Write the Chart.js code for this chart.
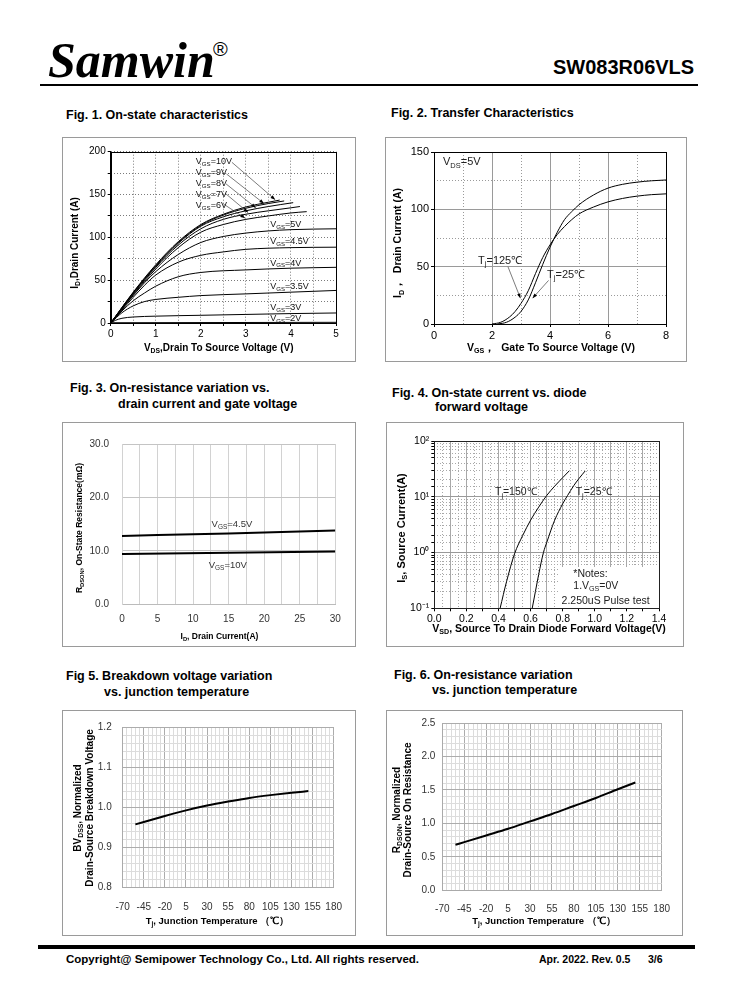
<!DOCTYPE html>
<html>
<head>
<meta charset="utf-8">
<script src="https://cdn.jsdelivr.net/npm/chart.js@4.4.1/dist/chart.umd.min.js"></script>
<style>
body { margin:0; background:#fff; width:738px; height:1000px; position:relative; overflow:hidden; font-family:"Liberation Sans", Arial, sans-serif; }
.t { position:absolute; font-weight:bold; font-size:12.5px; line-height:14px; white-space:nowrap; color:#000; }
.f { position:absolute; font-weight:bold; font-size:11.5px; line-height:14px; white-space:nowrap; color:#000; }
.rule { position:absolute; background:#000; }
canvas { position:absolute; }
#logo { position:absolute; left:48px; top:35px; font:italic bold 50px/50px "Liberation Serif", "Times New Roman", serif; }
#reg { position:absolute; left:213px; top:39px; font:20px/20px "Liberation Sans", Arial, sans-serif; }
#part { position:absolute; left:553px; top:56px; font:bold 20px/22px "Liberation Sans", Arial, sans-serif; }
</style>
</head>
<body>
<div id="logo">Samwin</div>
<div id="reg">®</div>
<div id="part">SW083R06VLS</div>
<div class="rule" style="left:40px;top:84px;width:658px;height:2px"></div>

<div class="t" style="left:66px;top:108px">Fig. 1. On-state characteristics</div>
<div class="t" style="left:391px;top:106px">Fig. 2. Transfer Characteristics</div>
<div class="t" style="left:70px;top:381px">Fig. 3. On-resistance variation vs.</div>
<div class="t" style="left:118px;top:397px">drain current and gate voltage</div>
<div class="t" style="left:392px;top:386px">Fig. 4. On-state current vs. diode</div>
<div class="t" style="left:435px;top:400px">forward voltage</div>
<div class="t" style="left:66px;top:669px">Fig 5. Breakdown voltage variation</div>
<div class="t" style="left:104px;top:685px">vs. junction temperature</div>
<div class="t" style="left:394px;top:668px">Fig. 6. On-resistance variation</div>
<div class="t" style="left:432px;top:683px">vs. junction temperature</div>

<canvas id="c1" width="294" height="225" style="left:62px;top:137px"></canvas>
<canvas id="c2" width="302" height="225" style="left:385px;top:137px"></canvas>
<canvas id="c3" width="294" height="225" style="left:62px;top:422px"></canvas>
<canvas id="c4" width="298" height="225" style="left:386px;top:422px"></canvas>
<canvas id="c5" width="294" height="226" style="left:62px;top:710px"></canvas>
<canvas id="c6" width="297" height="226" style="left:386px;top:710px"></canvas>

<div class="rule" style="left:38px;top:945px;width:657px;height:4px"></div>
<div class="f" style="left:66px;top:952px">Copyright@ Semipower Technology Co., Ltd. All rights reserved.</div>
<div class="f" style="left:539px;top:952px;font-size:10.5px">Apr. 2022. Rev. 0.5</div>
<div class="f" style="left:648px;top:952px;font-size:10.5px">3/6</div>

<script>
// Fig 1 - output curves, one pair of arrays per VGS
var vds10 = [0, 0.5, 1, 1.5, 2, 2.5, 3, 3.5, 3.75];
var id10 = [0, 36, 68, 95, 115, 127, 135.5, 141, 143.5];
var vds9 = [0, 0.5, 1, 1.5, 2, 2.5, 3, 3.5, 3.85];
var id9 = [0, 35.5, 67, 94, 114, 126, 134, 139.5, 142.5];
var vds8 = [0, 0.5, 1, 1.5, 2, 2.5, 3, 3.5, 4.05];
var id8 = [0, 35, 66, 93, 113, 124, 131, 136, 140.5];
var vds7 = [0, 0.5, 1, 1.5, 2, 2.5, 3, 3.5, 4, 4.2];
var id7 = [0, 34, 65, 91, 110, 121, 127, 131, 134.5, 136];
var vds6 = [0, 0.5, 1, 1.5, 2, 2.5, 3, 3.5, 4, 4.35];
var id6 = [0, 33, 63, 88, 106, 115, 121, 125, 128.5, 130];
var vds5 = [0, 0.25, 0.5, 0.75, 1, 1.5, 2, 2.5, 3, 3.5, 4, 5];
var id5 = [0, 16, 32, 47, 60, 80, 94, 101, 105, 107.5, 109, 110];
var vds45 = [0, 0.25, 0.5, 0.75, 1, 1.5, 2, 2.5, 3, 4, 5];
var id45 = [0, 15, 30, 44, 56, 71, 79, 83, 86, 88, 88.5];
var vds4 = [0, 0.25, 0.5, 0.75, 1, 1.5, 2, 3, 4, 5];
var id4 = [0, 14, 26, 35, 43, 54, 59, 62, 64, 65];
var vds35 = [0, 0.25, 0.5, 0.75, 1, 1.5, 2, 3, 4, 5];
var id35 = [0, 12, 20, 25, 27.5, 30, 32, 34, 36, 38];
var vds3 = [0, 0.1, 0.25, 0.5, 1, 2, 3, 4, 5];
var id3 = [0, 3, 5.5, 7, 8, 9, 10, 11, 11.7];
var vds2 = [0, 5];
var id2 = [0.3, 0.8];

// Fig 2 - transfer curves
var vgs125 = [2.0, 2.3, 2.6, 2.8, 3, 3.25, 3.5, 3.75, 4, 4.25, 4.5, 4.75, 5, 5.5, 6, 6.5, 7, 7.5, 8];
var idT125 = [0, 1.5, 6, 11, 18, 29, 44, 58, 69, 78, 85, 91, 96, 102, 106.5, 109.5, 111.5, 112.8, 113.5];
var vgs25 = [2.2, 2.5, 2.8, 3, 3.25, 3.5, 3.75, 4, 4.25, 4.5, 4.75, 5, 5.5, 6, 6.5, 7, 7.5, 8];
var idT25 = [0, 1.5, 6, 11, 21, 36, 52, 67, 80, 91, 98, 104, 112.5, 118.5, 121.8, 123.7, 124.9, 125.6];

// Fig 3 - RDS(on) vs ID
var idR = [0, 15, 30];
var rVgs45 = [12.8, 13.25, 13.8];
var rVgs10 = [9.4, 9.65, 9.9];

// Fig 4 - body diode
var vsd150 = [0.41, 0.45, 0.5, 0.55, 0.6, 0.65, 0.7, 0.75, 0.8, 0.84];
var is150 = [0.1, 0.3, 0.95, 2, 3.8, 6.5, 10.5, 15.5, 22, 29];
var vsd25 = [0.61, 0.63, 0.65, 0.68, 0.7, 0.75, 0.8, 0.83, 0.87, 0.9, 0.94];
var is25 = [0.1, 0.2, 0.4, 1.0, 1.5, 3.8, 7.5, 10.5, 16, 21, 29];

// Fig 5 / Fig 6 - vs junction temperature
var tjBv = [-55, -45, -20, 5, 30, 55, 80, 105, 130, 150];
var bvNorm = [0.957, 0.963, 0.978, 0.992, 1.004, 1.014, 1.023, 1.030, 1.036, 1.040];
var tjRon = [-55, -45, -20, 5, 30, 55, 80, 105, 130, 150];
var ronNorm = [0.68, 0.72, 0.82, 0.92, 1.03, 1.14, 1.26, 1.38, 1.51, 1.61];

var FONT = '"Liberation Sans", Arial, sans-serif';
Chart.defaults.font.family = FONT;
Chart.defaults.color = '#000';

function pts(xs, ys) {
    return xs.map((x, i) => ({ x: x, y: ys[i] }));
}

function curve(xs, ys, w) {
    return {
        data: pts(xs, ys), xAxisID: 'x', yAxisID: 'y',
        borderColor: '#000', borderWidth: w, pointRadius: 0,
        fill: false, cubicInterpolationMode: 'monotone'
    };
}

// text with _{sub} and ^{sup}
function rich(ctx, str, x, y, size, o) {
    o = o || {};
    var parts = str.split(/(_\{[^}]*\}|\^\{[^}]*\})/).filter(Boolean).map(p => {
        if (p.startsWith('_{')) return { t: p.slice(2, -1), k: 1 };
        if (p.startsWith('^{')) return { t: p.slice(2, -1), k: -1 };
        return { t: p, k: 0 };
    });
    var font = k => (o.bold ? 'bold ' : '') + (k ? size * 0.68 : size) + 'px ' + FONT;
    var total = 0;
    parts.forEach(p => { ctx.font = font(p.k); p.w = ctx.measureText(p.t).width; total += p.w; });
    ctx.save();
    ctx.translate(x, y);
    if (o.rotate) ctx.rotate(-Math.PI / 2);
    ctx.fillStyle = o.color || '#000';
    ctx.textBaseline = 'middle';
    ctx.textAlign = 'left';
    var cx = o.align === 'center' ? -total / 2 : 0;
    parts.forEach(p => {
        ctx.font = font(p.k);
        ctx.fillText(p.t, cx, p.k === 1 ? size * 0.3 : (p.k === -1 ? -size * 0.35 : 0));
        cx += p.w;
    });
    ctx.restore();
}

function decor(d) {
    return {
        id: 'decor',
        beforeDatasetsDraw(chart) {
            if (!d.blank) return;
            var sx = chart.scales.x, sy = chart.scales.y, b = d.blank;
            var x1 = sx.getPixelForValue(b[0]), y1 = sy.getPixelForValue(b[1]);
            var x2 = sx.getPixelForValue(b[2]), y2 = sy.getPixelForValue(b[3]);
            chart.ctx.fillStyle = '#fff';
            chart.ctx.fillRect(x1, y1, x2 - x1, y2 - y1);
        },
        afterDraw(chart) {
            var ctx = chart.ctx, a = chart.chartArea, sx = chart.scales.x, sy = chart.scales.y;
            ctx.save();
            if (d.frame) {
                ctx.strokeStyle = d.frame;
                ctx.lineWidth = 1;
                var l = Math.round(a.left) + 0.5, t = Math.round(a.top) + 0.5;
                ctx.strokeRect(l, t, Math.round(a.right) - Math.round(a.left), Math.round(a.bottom) - Math.round(a.top));
            }
            (d.arrows || []).forEach(ar => {
                var x1 = sx.getPixelForValue(ar[0]), y1 = sy.getPixelForValue(ar[1]);
                var x2 = sx.getPixelForValue(ar[2]), y2 = sy.getPixelForValue(ar[3]);
                var ang = Math.atan2(y2 - y1, x2 - x1);
                ctx.strokeStyle = '#444';
                ctx.fillStyle = '#000';
                ctx.lineWidth = 0.7;
                ctx.beginPath(); ctx.moveTo(x1, y1); ctx.lineTo(x2, y2); ctx.stroke();
                ctx.beginPath();
                ctx.moveTo(x2, y2);
                ctx.lineTo(x2 - 5 * Math.cos(ang - 0.35), y2 - 5 * Math.sin(ang - 0.35));
                ctx.lineTo(x2 - 5 * Math.cos(ang + 0.35), y2 - 5 * Math.sin(ang + 0.35));
                ctx.closePath(); ctx.fill();
            });
            (d.labels || []).forEach(lb => {
                rich(ctx, lb[0], sx.getPixelForValue(lb[1]), sy.getPixelForValue(lb[2]), d.labelSize, { color: d.labelColor });
            });
            (d.titles || []).forEach(tt => {
                rich(ctx, tt[0], tt[1], tt[2], tt[3], { bold: true, align: 'center', rotate: tt[4] });
            });
            ctx.strokeStyle = '#9a9a9a';
            ctx.lineWidth = 1;
            ctx.strokeRect(0.5, 0.5, chart.width - 1, chart.height - 1);
            ctx.restore();
        }
    };
}

function axis(o) {
    var s = {
        type: o.type || 'linear', position: o.pos, min: o.min, max: o.max,
        afterFit: sc => { if (o.pos === 'left') sc.width = o.size; else sc.height = o.size; },
        ticks: {
            display: !!o.label, stepSize: o.step, autoSkip: false, maxRotation: 0,
            padding: o.pad || 0, color: o.tc || '#000', font: { size: o.fs || 10 },
            callback: o.label || (() => '')
        },
        grid: {
            color: o.gc, lineWidth: 1, drawTicks: !!o.tl, tickLength: o.tl || 0,
            tickColor: '#000'
        },
        border: { display: !!o.bc, color: o.bc || '#000', dash: o.dash || [] }
    };
    return s;
}

function make(id, datasets, scales, pad, deco) {
    return new Chart(document.getElementById(id), {
        type: 'line',
        data: { datasets: datasets },
        options: {
            responsive: false, animation: false, events: [],
            layout: { padding: pad },
            scales: scales,
            plugins: { legend: { display: false }, tooltip: { enabled: false } }
        },
        plugins: [decor(deco)]
    });
}

var near = (v, m) => Math.abs(v / m - Math.round(v / m)) < 1e-6;
var sup = { '-1': '⁻¹', '0': '⁰', '1': '¹', '2': '²' };

// Fig 1
make('c1', [
    curve(vds10, id10, 1), curve(vds9, id9, 1), curve(vds8, id8, 1), curve(vds7, id7, 1),
    curve(vds6, id6, 1), curve(vds5, id5, 1), curve(vds45, id45, 1), curve(vds4, id4, 1),
    curve(vds35, id35, 1), curve(vds3, id3, 1), curve(vds2, id2, 1)
], {
    x: axis({ pos: 'bottom', min: 0, max: 5, step: 0.5, size: 39, pad: 2, tl: 3, gc: '#7a7a7a', dash: [1, 2], bc: '#000',
        label: v => near(v, 1) ? String(Math.round(v)) : '' }),
    y: axis({ pos: 'left', min: 0, max: 200, step: 25, size: 48.7, pad: 2, tl: 3, gc: '#7a7a7a', dash: [1, 2], bc: '#000',
        label: v => near(v, 50) ? String(v) : '' })
}, { left: 0, top: 14.7, right: 20, bottom: 0 }, {
    frame: '#000', labelSize: 9, labelColor: '#111',
    labels: [
        ['V_{GS}=10V', 1.89, 188], ['V_{GS}=9V', 1.89, 175.6], ['V_{GS}=8V', 1.89, 162.8],
        ['V_{GS}=7V', 1.89, 150], ['V_{GS}=6V', 1.89, 137.2], ['V_{GS}=5V', 3.54, 115],
        ['V_{GS}=4.5V', 3.54, 95], ['V_{GS}=4V', 3.54, 70], ['V_{GS}=3.5V', 3.54, 43],
        ['V_{GS}=3V', 3.54, 18], ['V_{GS}=2V', 3.54, 5.5]
    ],
    arrows: [
        [2.69, 187.6, 3.65, 144], [2.57, 174, 3.4, 139.5], [2.56, 162.4, 3.22, 134.5],
        [2.54, 151.5, 3.05, 129], [2.5, 139, 2.98, 122.5]
    ],
    titles: [
        ['I_{D},Drain Current (A)', 13, 106, 10, true],
        ['V_{DS},Drain To Source Voltage (V)', 156.7, 211.3, 10, false]
    ]
});

// Fig 2
make('c2', [curve(vgs125, idT125, 1), curve(vgs25, idT25, 1)], {
    x: axis({ pos: 'bottom', min: 0, max: 8, step: 2, size: 38, pad: 2, tl: 3, fs: 11, gc: '#9a9a9a', bc: '#000',
        label: v => String(v) }),
    x2: axis({ pos: 'bottom', min: 0, max: 8, step: 1, size: 0, dash: [1, 2],
        gc: c => near(c.tick.value, 2) ? 'rgba(0,0,0,0)' : '#9a9a9a' }),
    y: axis({ pos: 'left', min: 0, max: 150, step: 50, size: 49, pad: 2, tl: 3, fs: 11, gc: '#9a9a9a', bc: '#000',
        label: v => String(v) }),
    y2: axis({ pos: 'left', min: 0, max: 150, step: 25, size: 0, dash: [1, 2],
        gc: c => near(c.tick.value, 50) ? 'rgba(0,0,0,0)' : '#9a9a9a' })
}, { left: 0, top: 15, right: 21, bottom: 0 }, {
    frame: '#000', labelSize: 11, labelColor: '#222',
    labels: [['V_{DS}=5V', 0.31, 141], ['T_{j}=125℃', 1.52, 55], ['T_{j}=25℃', 3.9, 43]],
    arrows: [[2.55, 50, 2.98, 22.5], [3.95, 38, 3.4, 22.5]],
    titles: [
        ['I_{D}，  Drain Current (A)', 13.5, 106, 10.5, true],
        ['V_{GS}，  Gate To Source Voltage (V)', 166, 211, 10.5, false]
    ]
});

// Fig 3
make('c3', [curve(idR, rVgs45, 2), curve(idR, rVgs10, 2)], {
    x: axis({ pos: 'bottom', min: 0, max: 30, step: 2.5, size: 42.7, pad: 9, tc: '#333', gc: '#d2d2d2', bc: '#bbb',
        label: v => near(v, 5) ? String(v) : '' }),
    y: axis({ pos: 'left', min: 0, max: 30, step: 10, size: 60, pad: 13, tc: '#333', gc: '#c4c4c4', bc: '#d2d2d2',
        label: v => v.toFixed(1) })
}, { left: 0, top: 22, right: 20.7, bottom: 0 }, {
    labelSize: 9.5, labelColor: '#333',
    labels: [['V_{GS}=4.5V', 12.6, 15.0], ['V_{GS}=10V', 12.2, 7.2]],
    titles: [
        ['R_{DSON}, On-State Resistance(mΩ)', 18, 106, 8.5, true],
        ['I_{D}, Drain Current(A)', 157.5, 215, 8.5, false]
    ]
});

// Fig 4
make('c4', [curve(vsd150, is150, 1), curve(vsd25, is25, 1)], {
    x: axis({ pos: 'bottom', min: 0, max: 1.4, step: 0.1, size: 38.7, pad: 2, tl: 3, fs: 10.5, gc: '#a8a8a8', bc: '#000',
        label: v => near(v, 0.2) ? v.toFixed(1) : '' }),
    x2: axis({ pos: 'bottom', min: 0, max: 1.4, step: 0.05, size: 0, dash: [1, 2],
        gc: c => near(c.tick.value, 0.1) ? 'rgba(0,0,0,0)' : '#a8a8a8' }),
    y: axis({ type: 'logarithmic', pos: 'left', min: 0.1, max: 100, size: 48.3, pad: 2, tl: 3, fs: 10.5, bc: '#000',
        gc: c => near(Math.log10(c.tick.value), 1) ? '#999' : 'rgba(0,0,0,0)',
        label: v => near(Math.log10(v), 1) ? '10' + sup[Math.round(Math.log10(v))] : '' }),
    y2: axis({ type: 'logarithmic', pos: 'left', min: 0.1, max: 100, size: 0, dash: [1, 2],
        gc: c => near(Math.log10(c.tick.value), 1) ? 'rgba(0,0,0,0)' : '#a8a8a8' })
}, { left: 0, top: 19, right: 25, bottom: 0 }, {
    frame: '#222', labelSize: 10.5, labelColor: '#222',
    blank: [0.78, 0.55, 1.395, 0.1],
    labels: [
        ['T_{j}=150℃', 0.378, 11.9], ['T_{j}=25℃', 0.881, 11.9],
        ['*Notes:', 0.866, 0.41], ['1.V_{GS}=0V', 0.866, 0.255], ['2.250uS Pulse test', 0.793, 0.135]
    ],
    titles: [
        ['I_{S}, Source Current(A)', 16, 106, 11, true],
        ['V_{SD}, Source To Drain Diode Forward Voltage(V)', 163, 207, 10.5, false]
    ]
});

// Fig 5
make('c5', [curve(tjBv, bvNorm, 2)], {
    x: axis({ pos: 'bottom', min: -70, max: 180, step: 5, size: 48.7, pad: 14, tc: '#333', bc: '#aaa',
        gc: c => near(c.tick.value + 70, 25) ? '#acacac' : '#dcdcdc',
        label: v => near(v + 70, 25) ? String(v) : '' }),
    y: axis({ pos: 'left', min: 0.8, max: 1.2, step: 0.02, size: 60.7, pad: 11, tc: '#333', bc: '#aaa',
        gc: c => near(c.tick.value, 0.1) ? '#acacac' : '#dcdcdc',
        label: v => near(v, 0.1) ? v.toFixed(1) : '' })
}, { left: 0, top: 14, right: 13.3, bottom: 0 }, {
    titles: [
        ['BV_{DSS}, Normalized', 16, 98, 10, true],
        ['Drain-Source Breakdown Voltage', 28, 98, 10, true],
        ['T_{j}, Junction Temperature （℃）', 155.5, 211, 9.5, false]
    ]
});

// Fig 6
make('c6', [curve(tjRon, ronNorm, 2)], {
    x: axis({ pos: 'bottom', min: -70, max: 180, step: 5, size: 45.7, pad: 13, tc: '#333', bc: '#aaa',
        gc: c => near(c.tick.value + 70, 25) ? '#acacac' : '#dcdcdc',
        label: v => near(v + 70, 25) ? String(v) : '' }),
    y: axis({ pos: 'left', min: 0, max: 2.5, step: 0.1, size: 56.3, pad: 7, tc: '#333', bc: '#aaa',
        gc: c => near(c.tick.value, 0.5) ? '#acacac' : '#dcdcdc',
        label: v => near(v, 0.5) ? v.toFixed(1) : '' })
}, { left: 0, top: 12.7, right: 14.7, bottom: 0 }, {
    titles: [
        ['R_{DSON}, Normalized', 11, 100, 10, true],
        ['Drain-Source On Resistance', 22, 100, 10, true],
        ['T_{j}, Junction Temperature （℃）', 158, 211.7, 9.5, false]
    ]
});
</script>
</body>
</html>
